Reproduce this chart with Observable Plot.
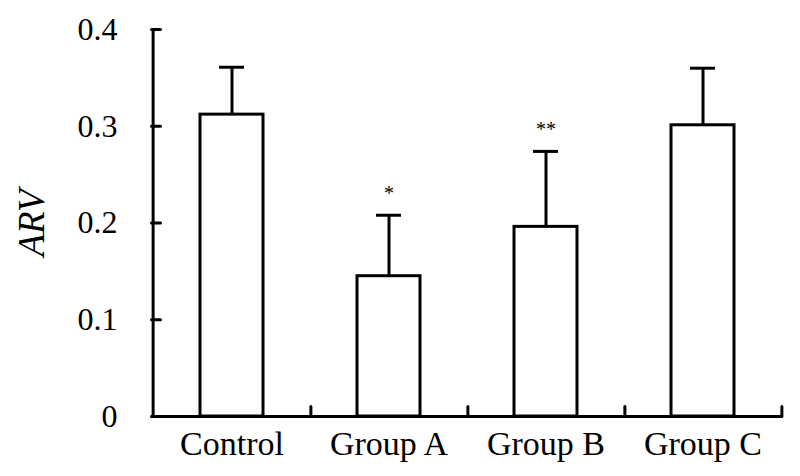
<!DOCTYPE html>
<html>
<head>
<meta charset="utf-8">
<script src="https://cdn.jsdelivr.net/npm/d3@7"></script>
<script src="https://cdn.jsdelivr.net/npm/@observablehq/plot@0.6"></script>
<style>
  html, body { margin: 0; padding: 0; background: #fff; }
</style>
</head>
<body>
<div id="chart"></div>
<script>
const groups = ["Control", "Group A", "Group B", "Group C"];
const means = [0.312, 0.145, 0.196, 0.301];
const errors = [0.049, 0.063, 0.078, 0.059];
const signif = ["", "*", "**", ""];
const yTicks = [0, 0.1, 0.2, 0.3, 0.4];
const yLabel = "ARV";

const data = groups.map((g, i) => ({
  group: g, mean: means[i], upper: means[i] + errors[i], sig: signif[i]
}));

const W = 800, H = 476, mL = 151, mR = 18, mT = 29, mB = 60;
const step = (W - mL - mR) / groups.length;
const sw = 3;

const tickUp = {draw(ctx, l) { ctx.moveTo(0, 0); ctx.lineTo(0, -l); }};

const chart = Plot.plot({
  width: W, height: H,
  marginLeft: mL, marginRight: mR, marginTop: mT, marginBottom: mB,
  style: {fontFamily: "'Liberation Serif', 'Times New Roman', serif", fontSize: "32px", color: "black", background: "white"},
  x: {domain: groups, paddingInner: 0.6, paddingOuter: 0.3, label: null},
  y: {domain: [0, 0.4], label: null},
  marks: [
    Plot.barY(data, {x: "group", y: "mean", fill: "white", stroke: "black", strokeWidth: sw}),
    Plot.ruleX(data, {x: "group", y1: "mean", y2: "upper", stroke: "black", strokeWidth: sw}),
    Plot.tickY(data, {x: "group", y: "upper", stroke: "black", strokeWidth: sw, insetLeft: 19, insetRight: 19}),
    Plot.text(data, {x: "group", y: "upper", text: "sig", dy: -22, fontSize: 20, fill: "black"}),
    // axis lines
    Plot.ruleY([0], {stroke: "black", strokeWidth: sw}),
    Plot.ruleX([groups[0]], {x: d => d, y1: 0, y2: 0.4, dx: -step / 2, stroke: "black", strokeWidth: sw}),
    // inward y ticks
    Plot.vector(yTicks, {y: d => d, frameAnchor: "left", length: 9, rotate: 90, anchor: "start", shape: tickUp, stroke: "black", strokeWidth: sw}),
    // inward x ticks at category boundaries
    Plot.vector(groups, {x: d => d, frameAnchor: "bottom", length: 10, rotate: 0, anchor: "start", shape: tickUp, dx: step / 2, stroke: "black", strokeWidth: sw}),
    Plot.axisY(yTicks, {tickSize: 0, tickPadding: 34, tickFormat: d => String(d), label: null, fontSize: 32}),
    Plot.axisX(groups, {tickSize: 0, tickPadding: 14, label: null, fontSize: 34}),
    Plot.text([yLabel], {text: d => d, frameAnchor: "left", textAnchor: "middle", rotate: -90, dx: -119, fontStyle: "italic", fontSize: 37, fill: "black"})
  ]
});
document.getElementById("chart").appendChild(chart);
</script>
</body>
</html>
